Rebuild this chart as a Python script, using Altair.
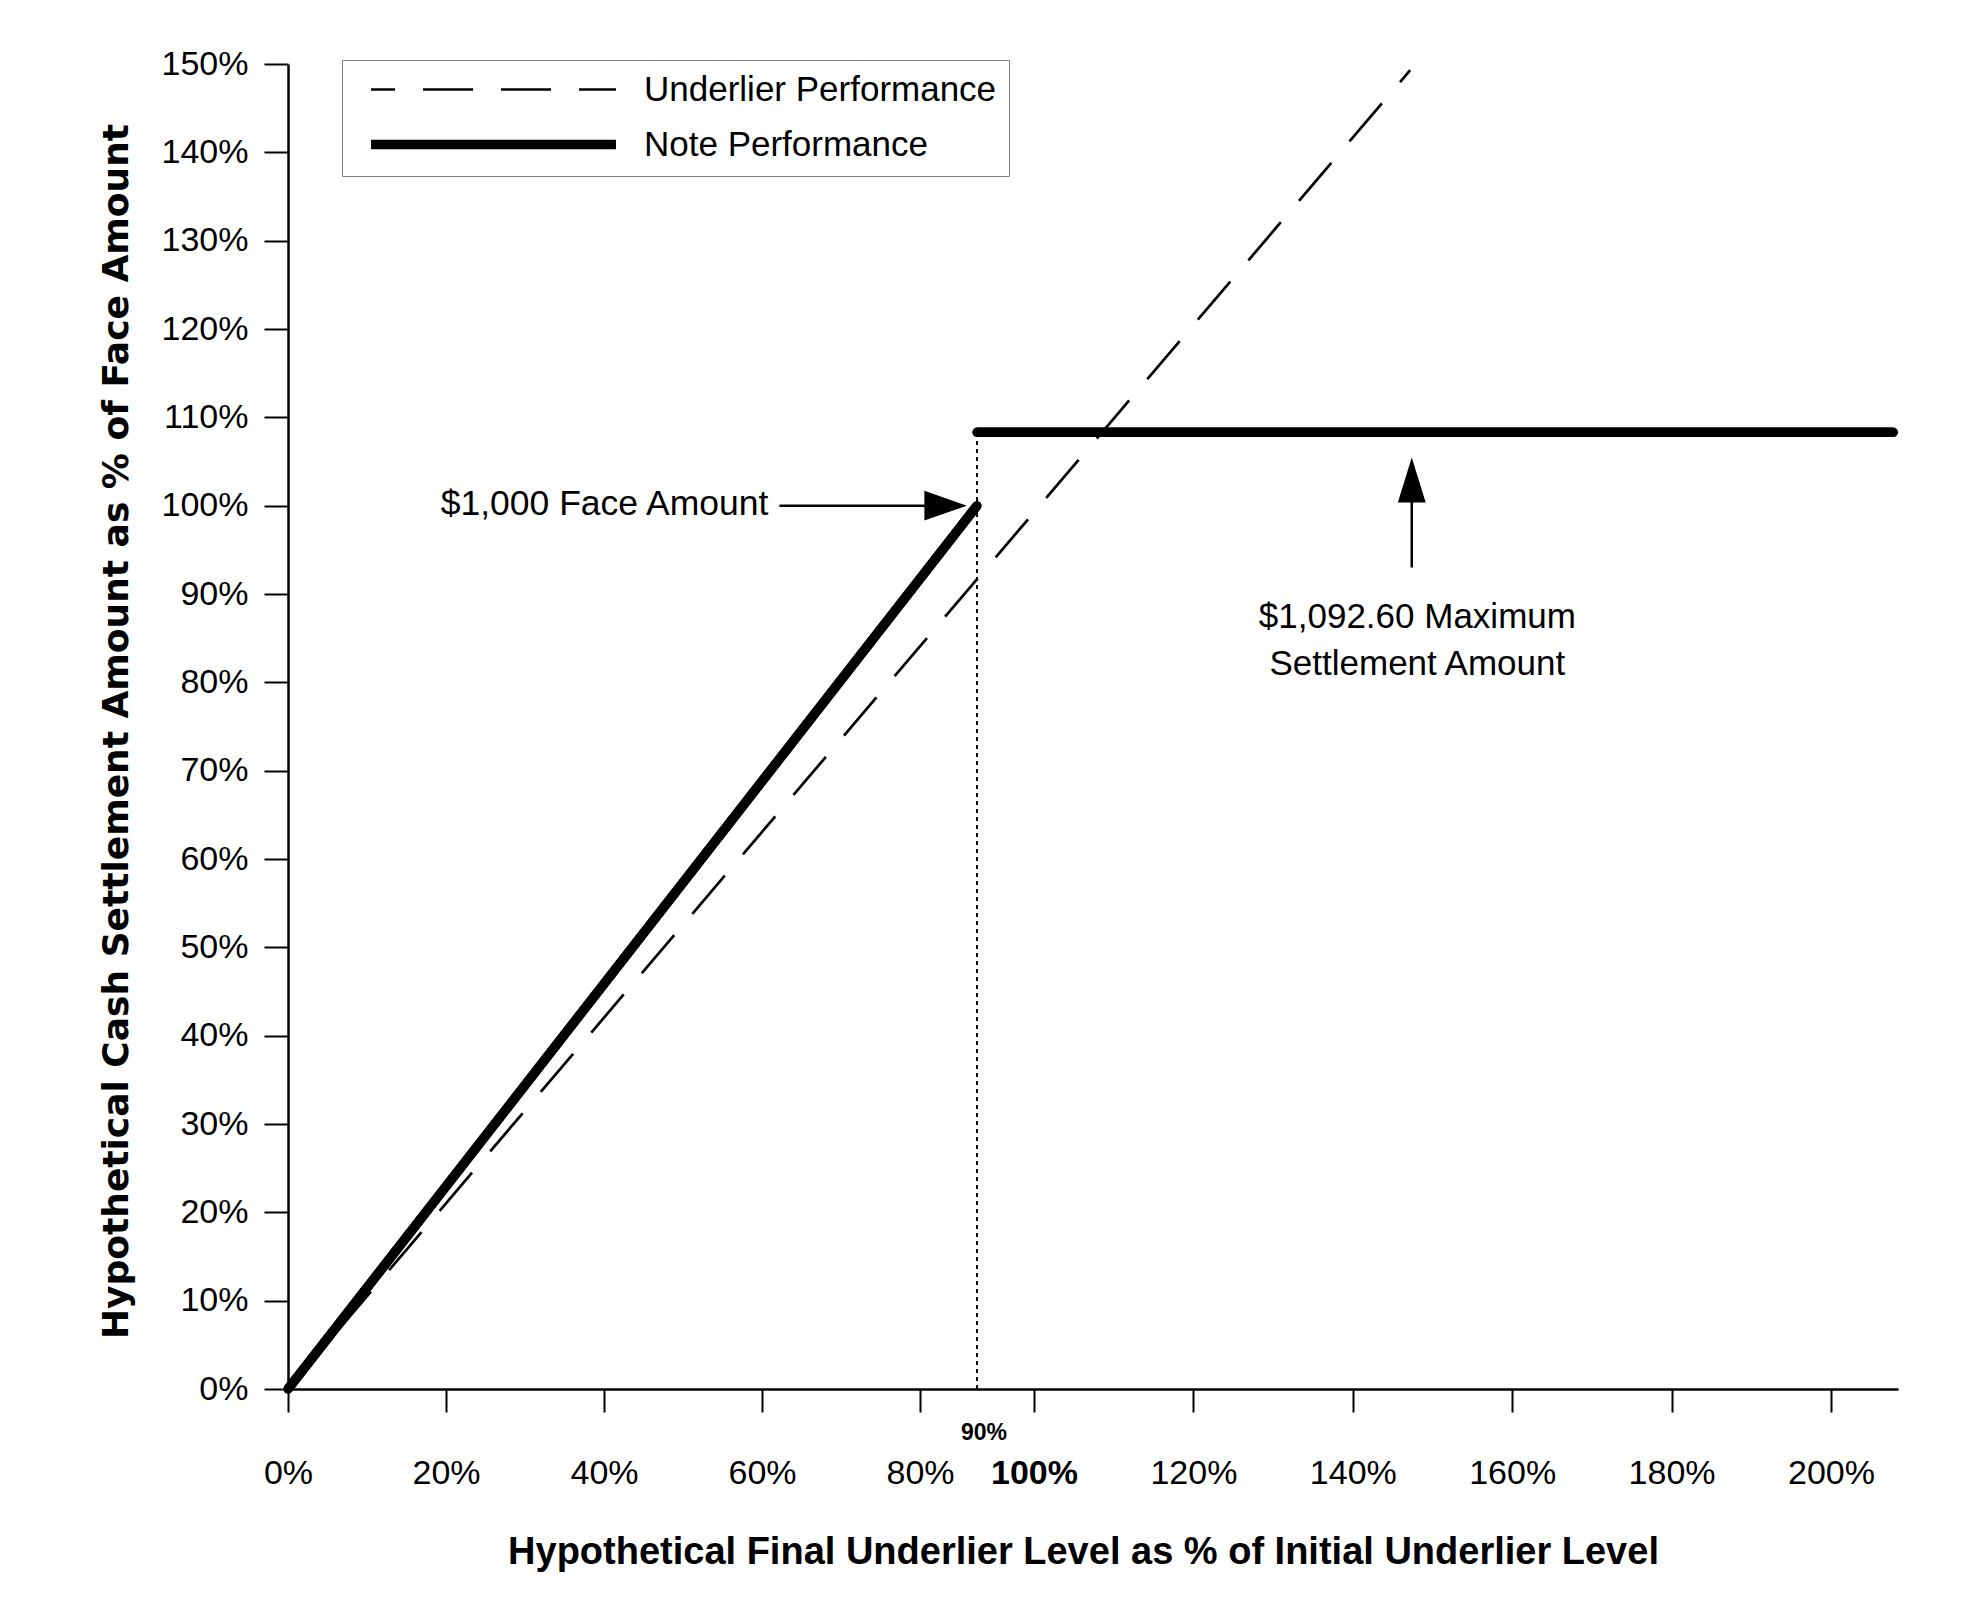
import altair as alt
import pandas as pd

# ---- data ----
x_tick_values = [0, 20, 40, 60, 80, 100, 120, 140, 160, 180, 200]
y_tick_values = [0, 10, 20, 30, 40, 50, 60, 70, 80, 90, 100, 110, 120, 130, 140, 150]

underlier_x = [0, 147.2]
underlier_y = [0, 149.3]

note_x = [0, 90, 90, 208]
note_y = [0, 100, 108.3, 108.3]
note_seg = ["ramp", "ramp", "flat", "flat"]

strike_level = 90
cap_level = 108.3

series_names = ["Underlier Performance", "Note Performance"]

face_label = "$1,000 Face Amount"
face_anchor = (60.8, 100)
face_arrow_x = [62.2, 81.0]
face_head = (84.5, 100)

max_label = ["$1,092.60 Maximum", "Settlement Amount"]
max_label_x = 148.1
max_label_y = [86.1, 80.8]
max_arrow_x = 147.4
max_arrow_y = [93.0, 101.0]
max_head = (147.4, 102.9)

FONT = "Liberation Sans"

# ---- tables ----
lines = pd.DataFrame(
    {
        "x": underlier_x + note_x,
        "y": underlier_y + note_y,
        "series": [series_names[0]] * len(underlier_x) + [series_names[1]] * len(note_x),
        "seg": ["u"] * len(underlier_x) + note_seg,
    }
)

x_scale = alt.Scale(domain=[0, 80, 100, 200, 208.6], range=[0, 632, 746, 1543, 1610], nice=False, zero=False)
y_scale = alt.Scale(domain=[0, 150], nice=False)

x_axis = alt.Axis(
    values=x_tick_values,
    labelExpr="datum.value + '%'",
    grid=False,
    domainColor="black",
    domainWidth=2.5,
    tickColor="black",
    tickWidth=2,
    tickSize=23,
    labelFont=FONT,
    labelFontSize=34,
    labelColor="black",
    labelFontWeight={"condition": {"test": "datum.value == 100", "value": "bold"}, "value": "normal"},
    labelBaseline="alphabetic",
    labelPadding=71,
    labelFlush=False,
    title="Hypothetical Final Underlier Level as % of Initial Underlier Level",
    titleFont=FONT,
    titleFontSize=38,
    titleFontWeight="bold",
    titleColor="black",
    titleX=795,
    titleY=174,
    titleBaseline="alphabetic",
    titleAlign="center",
)

y_axis = alt.Axis(
    values=y_tick_values,
    labelExpr="datum.value + '%'",
    grid=False,
    domainColor="black",
    domainWidth=2.5,
    tickColor="black",
    tickWidth=2,
    tickSize=24,
    labelFont=FONT,
    labelFontSize=34,
    labelColor="black",
    labelPadding=16,
    labelFlush=False,
    title="Hypothetical Cash Settlement Amount as % of Face Amount",
    titleFont="DejaVu Sans",
    titleFontSize=36,
    titleFontWeight="bold",
    titleColor="black",
    titleAngle=270,
    titleX=-161,
    titleY=667,
    titleAlign="center",
    titleBaseline="alphabetic",
)

base = alt.Chart(lines)

series_lines = base.mark_line(color="black", strokeCap="butt").encode(
    x=alt.X("x:Q", scale=x_scale, axis=x_axis),
    y=alt.Y("y:Q", scale=y_scale, axis=y_axis),
    detail="seg:N",
    strokeDash=alt.StrokeDash(
        "series:O",
        scale=alt.Scale(domain=series_names, range=[[50, 28], [1, 0]]),
        legend=alt.Legend(
            title=None,
            orient="none",
            legendX=54,
            legendY=-4,
            symbolType="M-10,0L10,0",
            symbolSize=600,
            symbolStrokeColor="black",
            symbolDashOffset=26,
            symbolOffset=122,
            labelFont=FONT,
            labelFontSize=35,
            labelColor="black",
            labelOffset=133,
            labelLimit=0,
            rowPadding=17,
            padding=12,
            strokeColor="#7f7f7f",
            fillColor="white",
        ),
    ),
    strokeWidth=alt.StrokeWidth(
        "series:O",
        scale=alt.Scale(domain=series_names, range=[2.7, 9.5]),
    ),
)

# round caps on the note segments
note_df = lines[lines["series"] == series_names[1]]
note_lines = alt.Chart(note_df).mark_line(color="black", strokeWidth=9.5, strokeCap="round").encode(
    x=alt.X("x:Q", scale=x_scale),
    y=alt.Y("y:Q", scale=y_scale),
    detail="seg:N",
)

strike_df = pd.DataFrame({"x": [strike_level], "y": [0], "y2": [cap_level]})
strike_rule = alt.Chart(strike_df).mark_rule(color="black", strokeWidth=2, strokeDash=[4, 4]).encode(
    x=alt.X("x:Q", scale=x_scale), y=alt.Y("y:Q", scale=y_scale), y2="y2:Q"
)
strike_label = alt.Chart(strike_df).mark_text(
    font=FONT, fontSize=23, fontWeight="bold", color="black", baseline="alphabetic", align="center", dx=7, dy=51
).encode(x=alt.X("x:Q", scale=x_scale), y=alt.Y("y:Q", scale=y_scale), text=alt.value("90%"))

# face amount annotation
face_text_df = pd.DataFrame({"x": [face_anchor[0]], "y": [face_anchor[1]], "t": [face_label]})
face_text = alt.Chart(face_text_df).mark_text(
    font=FONT, fontSize=35.5, color="black", align="right", baseline="middle", dy=-2
).encode(x=alt.X("x:Q", scale=x_scale), y=alt.Y("y:Q", scale=y_scale), text="t:N")

face_arrow_df = pd.DataFrame({"x": [face_arrow_x[0]], "x2": [face_arrow_x[1]], "y": [face_anchor[1]]})
face_arrow = alt.Chart(face_arrow_df).mark_rule(color="black", strokeWidth=2.5).encode(
    x=alt.X("x:Q", scale=x_scale), x2="x2:Q", y=alt.Y("y:Q", scale=y_scale)
)
face_head_df = pd.DataFrame({"x": [face_head[0]], "y": [face_head[1]]})
face_arrowhead = alt.Chart(face_head_df).mark_point(
    shape="M-1,-0.7L1,0L-1,0.7Z", filled=True, color="black", opacity=1, size=1806
).encode(x=alt.X("x:Q", scale=x_scale), y=alt.Y("y:Q", scale=y_scale))

# maximum settlement annotation
max_arrow_df = pd.DataFrame({"x": [max_arrow_x], "y": [max_arrow_y[0]], "y2": [max_arrow_y[1]]})
max_arrow = alt.Chart(max_arrow_df).mark_rule(color="black", strokeWidth=2.5).encode(
    x=alt.X("x:Q", scale=x_scale), y=alt.Y("y:Q", scale=y_scale), y2="y2:Q"
)
max_head_df = pd.DataFrame({"x": [max_head[0]], "y": [max_head[1]]})
max_arrowhead = alt.Chart(max_head_df).mark_point(
    shape="M-0.62,1L0,-1L0.62,1Z", filled=True, color="black", opacity=1, size=2025
).encode(x=alt.X("x:Q", scale=x_scale), y=alt.Y("y:Q", scale=y_scale))

max_text_df = pd.DataFrame({"x": [max_label_x] * 2, "y": max_label_y, "t": max_label})
max_text = alt.Chart(max_text_df).mark_text(
    font=FONT, fontSize=35, color="black", align="center", baseline="alphabetic"
).encode(x=alt.X("x:Q", scale=x_scale), y=alt.Y("y:Q", scale=y_scale), text="t:N")

chart = (
    alt.layer(
        strike_rule,
        series_lines,
        note_lines,
        strike_label,
        face_text,
        face_arrow,
        face_arrowhead,
        max_arrow,
        max_arrowhead,
        max_text,
    )
    .properties(
        width=1610,
        height=1325,
        autosize=alt.AutoSizeParams(type="none"),
        padding={"left": 280, "top": 56, "right": 60, "bottom": 200},
        background="white",
    )
    .configure_view(stroke=None)
)

chart.save("out.html", embed_options={"renderer": "svg", "actions": False})
